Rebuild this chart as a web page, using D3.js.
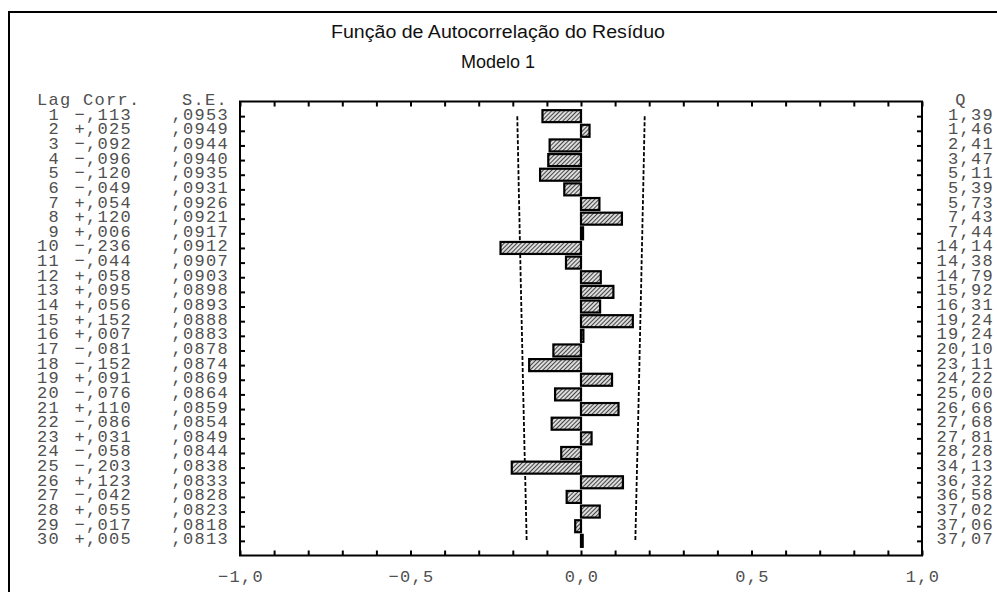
<!DOCTYPE html>
<meta charset="utf-8">
<style>
  body { margin: 0; background: #fff; }
  .mono { font-family: "Liberation Mono", "Courier New", monospace; font-size: 17px; letter-spacing: 1.3px; fill: #505050; }
  .title { font-family: "Liberation Sans", Arial, sans-serif; font-size: 18px; fill: #111; }
</style>
<body>
<div id="chart"></div>
<script src="https://d3js.org/d3.v7.min.js"></script>
<script>
  var lags = d3.range(1, 31);
  var corr = [-0.113, 0.025, -0.092, -0.096, -0.120, -0.049, 0.054, 0.120, 0.006, -0.236,
              -0.044, 0.058, 0.095, 0.056, 0.152, 0.007, -0.081, -0.152, 0.091, -0.076,
              0.110, -0.086, 0.031, -0.058, -0.203, 0.123, -0.042, 0.055, -0.017, 0.005];
  var se = [0.0953, 0.0949, 0.0944, 0.0940, 0.0935, 0.0931, 0.0926, 0.0921, 0.0917, 0.0912,
            0.0907, 0.0903, 0.0898, 0.0893, 0.0888, 0.0883, 0.0878, 0.0874, 0.0869, 0.0864,
            0.0859, 0.0854, 0.0849, 0.0844, 0.0838, 0.0833, 0.0828, 0.0823, 0.0818, 0.0813];
  var q = [1.39, 1.46, 2.41, 3.47, 5.11, 5.39, 5.73, 7.43, 7.44, 14.14,
           14.38, 14.79, 15.92, 16.31, 19.24, 19.24, 20.10, 23.11, 24.22, 25.00,
           26.66, 27.68, 27.81, 28.28, 34.13, 36.32, 36.58, 37.02, 37.06, 37.07];
  var xTicks = [-1, -0.5, 0, 0.5, 1];
  var xTickLabels = ["\u22121,0", "\u22120,5", "0,0", "0,5", "1,0"];

  var W = 997, H = 592;
  var plot = {left: 240, right: 922, top: 101.5, bottom: 555.5};

  var svg = d3.select("#chart").append("svg")
      .attr("width", W).attr("height", H);

  // hatch pattern for the bars
  var pat = svg.append("defs").append("pattern")
      .attr("id", "hatch")
      .attr("patternUnits", "userSpaceOnUse")
      .attr("width", 3).attr("height", 3)
      .attr("patternTransform", "rotate(45)");
  pat.append("rect").attr("width", 3).attr("height", 3).attr("fill", "#dcdcdc");
  pat.append("line").attr("x1", 0.5).attr("y1", 0).attr("x2", 0.5).attr("y2", 3)
      .attr("stroke", "#444").attr("stroke-width", 1);

  // outer frame
  svg.append("rect")
      .attr("x", 9).attr("y", 12).attr("width", 1000).attr("height", 700)
      .attr("fill", "none").attr("stroke", "#000").attr("stroke-width", 2);

  svg.append("text").attr("class", "title")
      .attr("x", 498).attr("y", 38).attr("text-anchor", "middle")
      .attr("textLength", 334).attr("lengthAdjust", "spacingAndGlyphs")
      .text("Função de Autocorrelação do Resíduo");
  svg.append("text").attr("class", "title")
      .attr("x", 498).attr("y", 68).attr("text-anchor", "middle")
      .text("Modelo 1");

  var x = d3.scaleLinear().domain([-1, 1]).range([plot.left, plot.right]);
  var y = d3.scaleLinear().domain([0, 31]).range([plot.top, plot.bottom]);

  // confidence limits, dashed
  var line = d3.line().x(function (d) { return d[0]; }).y(function (d) { return d[1]; });
  [-1, 1].forEach(function (s) {
    svg.append("path")
        .attr("d", line(lags.map(function (l, i) { return [x(s * 1.96 * se[i]), y(l)]; })))
        .attr("fill", "none").attr("stroke", "#000")
        .attr("stroke-width", 1.8).attr("stroke-dasharray", "4,2");
  });

  // bars
  var bh = 12;
  svg.selectAll(".bar")
      .data(lags)
      .enter().append("rect")
      .attr("class", "bar")
      .attr("x", function (d, i) { return Math.min(x(0), x(corr[i])); })
      .attr("y", function (d) { return y(d) - bh / 2; })
      .attr("width", function (d, i) { return Math.abs(x(corr[i]) - x(0)); })
      .attr("height", bh)
      .attr("fill", "url(#hatch)")
      .attr("stroke", "#000").attr("stroke-width", 2.2);

  // axes, ticks pointing inward
  var minor = d3.range(-10, 11).map(function (d) { return d / 10; });
  var tickStyle = function (g) {
    g.select(".domain").remove();
    g.selectAll("line").attr("stroke", "#000").attr("stroke-width", 2);
  };
  svg.append("g").attr("transform", "translate(0," + plot.bottom + ")")
      .call(d3.axisBottom(x).tickValues(minor).tickSize(-5).tickFormat(""))
      .call(tickStyle);
  svg.append("g").attr("transform", "translate(0," + plot.top + ")")
      .call(d3.axisTop(x).tickValues(minor).tickSize(-5).tickFormat(""))
      .call(tickStyle);
  svg.append("g").attr("transform", "translate(" + plot.left + ",0)")
      .call(d3.axisLeft(y).tickValues(lags).tickSize(-5).tickFormat(""))
      .call(tickStyle);
  svg.append("g").attr("transform", "translate(" + plot.right + ",0)")
      .call(d3.axisRight(y).tickValues(lags).tickSize(-5).tickFormat(""))
      .call(tickStyle);

  svg.append("rect")
      .attr("x", plot.left).attr("y", plot.top)
      .attr("width", plot.right - plot.left).attr("height", plot.bottom - plot.top)
      .attr("fill", "none").attr("stroke", "#000").attr("stroke-width", 2);

  svg.selectAll(".xlab")
      .data(xTicks)
      .enter().append("text")
      .attr("class", "mono")
      .attr("x", function (d) { return x(d) + 1; })
      .attr("y", 581.5)
      .attr("text-anchor", "middle")
      .text(function (d, i) { return xTickLabels[i]; });

  // table text
  var fmtCorr = function (v) {
    return (v < 0 ? "\u2212" : "+") + "," + String(Math.round(Math.abs(v) * 1000)).padStart(3, "0");
  };
  var fmtSe = function (v) { return "," + String(Math.round(v * 10000)).padStart(4, "0"); };
  var fmtQ = function (v) { return v.toFixed(2).replace(".", ","); };

  var hy = y(0) + 3.6;
  svg.append("text").attr("class", "mono").attr("x", 37).attr("y", hy).text("Lag Corr.");
  svg.append("text").attr("class", "mono").attr("x", 182).attr("y", hy).text("S.E.");
  svg.append("text").attr("class", "mono").attr("x", 961).attr("y", hy).attr("text-anchor", "middle").text("Q");

  var rows = svg.selectAll(".row").data(lags).enter().append("g").attr("class", "row");
  rows.append("text").attr("class", "mono").attr("text-anchor", "end")
      .attr("x", 60).attr("y", function (d) { return y(d) + 3.5; })
      .text(function (d) { return d; });
  rows.append("text").attr("class", "mono").attr("text-anchor", "end")
      .attr("x", 132).attr("y", function (d) { return y(d) + 3.5; })
      .text(function (d, i) { return fmtCorr(corr[i]); });
  rows.append("text").attr("class", "mono").attr("text-anchor", "end")
      .attr("x", 229).attr("y", function (d) { return y(d) + 3.5; })
      .text(function (d, i) { return fmtSe(se[i]); });
  rows.append("text").attr("class", "mono").attr("text-anchor", "end")
      .attr("x", 994).attr("y", function (d) { return y(d) + 3.5; })
      .text(function (d, i) { return fmtQ(q[i]); });
</script>
</body>
